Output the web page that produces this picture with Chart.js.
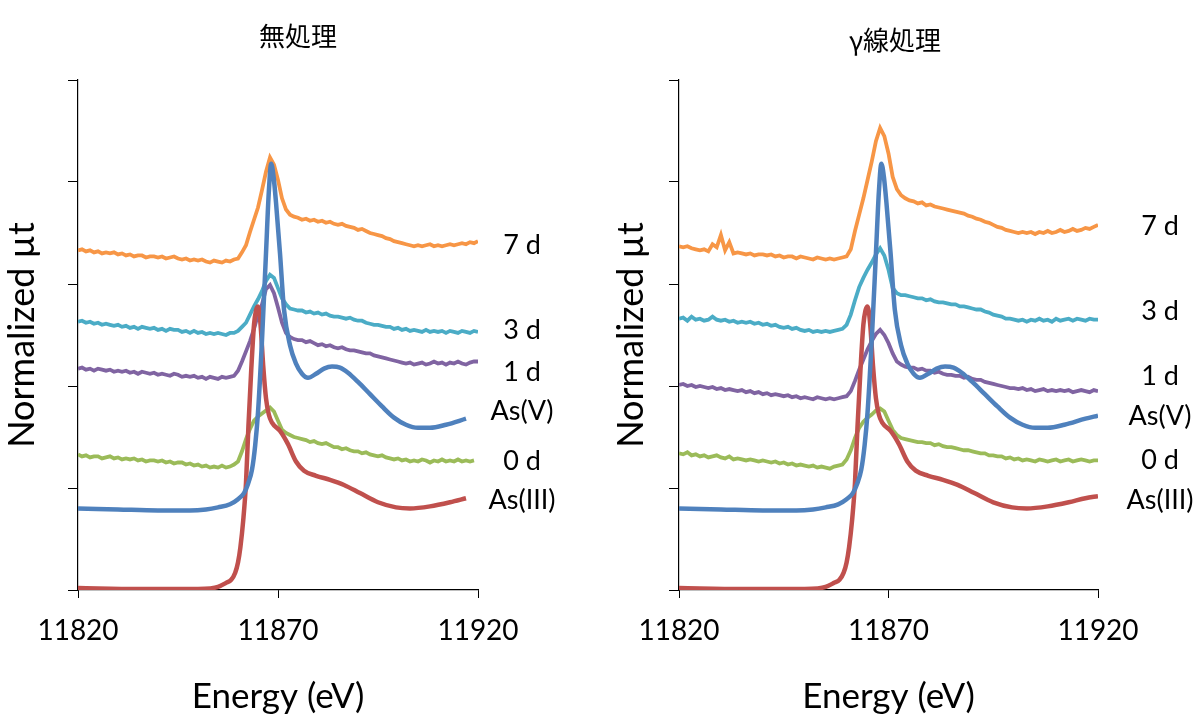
<!DOCTYPE html>
<html>
<head>
<meta charset="utf-8">
<script src="https://cdn.jsdelivr.net/npm/chart.js@4.4.0/dist/chart.umd.min.js"></script>
<style>
  html, body { margin: 0; padding: 0; background: #fff; }
  #wrap { position: relative; width: 1201px; height: 718px; }
  canvas { position: absolute; top: 0; }
  #left { left: 0; }
  #right { left: 600px; }
</style>
</head>
<body>
<div id="wrap">
  <canvas id="left" width="600" height="718"></canvas>
  <canvas id="right" width="601" height="718"></canvas>
</div>
<script>
// energy grid of the sample spectra (eV)
const energyGrid = [
  11820, 11821, 11822, 11823, 11824, 11825, 11826, 11827, 11828, 11829,
  11830, 11831, 11832, 11833, 11834, 11835, 11836, 11837, 11838, 11839,
  11840, 11841, 11842, 11843, 11844, 11845, 11846, 11847, 11848, 11849,
  11850, 11851, 11852, 11853, 11854, 11855, 11856, 11857, 11858, 11859,
  11860, 11861, 11862, 11863, 11864, 11865, 11866, 11867, 11868, 11869,
  11870, 11871, 11872, 11873, 11874, 11875, 11876, 11877, 11878, 11879,
  11880, 11881, 11882, 11883, 11884, 11885, 11886, 11887, 11888, 11889,
  11890, 11891, 11892, 11893, 11894, 11895, 11896, 11897, 11898, 11899,
  11900, 11901, 11902, 11903, 11904, 11905, 11906, 11907, 11908, 11909,
  11910, 11911, 11912, 11913, 11914, 11915, 11916, 11917, 11918, 11919,
  11920
];
const xTicks = [11820, 11870, 11920];
const seriesLabels = ['7 d', '3 d', '1 d', 'As(V)', '0 d', 'As(III)'];

// 無処理 (untreated)
const untreated7d = [
  3.33, 3.34, 3.32, 3.33, 3.31, 3.32, 3.30, 3.31, 3.30, 3.31,
  3.29, 3.30, 3.28, 3.29, 3.27, 3.28, 3.28, 3.26, 3.27, 3.27,
  3.26, 3.27, 3.25, 3.26, 3.27, 3.25, 3.24, 3.25, 3.23, 3.24,
  3.23, 3.24, 3.22, 3.21, 3.23, 3.22, 3.21, 3.23, 3.22, 3.24,
  3.25, 3.31, 3.38, 3.51, 3.63, 3.75, 3.92, 4.10, 4.24, 4.17,
  4.02, 3.84, 3.73, 3.68, 3.66, 3.65, 3.63, 3.64, 3.62, 3.63,
  3.61, 3.62, 3.60, 3.61, 3.59, 3.58, 3.59, 3.57, 3.56, 3.55,
  3.53, 3.54, 3.52, 3.50, 3.49, 3.48, 3.47, 3.45, 3.44, 3.42,
  3.41, 3.40, 3.39, 3.38, 3.37, 3.38, 3.37, 3.38, 3.39, 3.37,
  3.38, 3.37, 3.38, 3.39, 3.38, 3.39, 3.40, 3.39, 3.41, 3.40,
  3.42
];
const untreated3d = [
  2.63, 2.64, 2.62, 2.63, 2.61, 2.62, 2.60, 2.61, 2.60, 2.59,
  2.60, 2.58, 2.59, 2.57, 2.58, 2.56, 2.58, 2.57, 2.56, 2.57,
  2.55, 2.56, 2.54, 2.56, 2.55, 2.55, 2.53, 2.54, 2.52, 2.54,
  2.52, 2.53, 2.51, 2.52, 2.51, 2.52, 2.51, 2.50, 2.52, 2.52,
  2.54, 2.58, 2.62, 2.70, 2.78, 2.85, 2.93, 3.03, 3.09, 3.06,
  2.96, 2.86, 2.80, 2.76, 2.75, 2.74, 2.74, 2.72, 2.73, 2.71,
  2.72, 2.70, 2.71, 2.69, 2.68, 2.68, 2.67, 2.66, 2.67, 2.65,
  2.64, 2.64, 2.62, 2.61, 2.60, 2.60, 2.59, 2.58, 2.58, 2.56,
  2.57, 2.55, 2.56, 2.54, 2.55, 2.54, 2.53, 2.55, 2.53, 2.54,
  2.53, 2.54, 2.52, 2.54, 2.53, 2.52, 2.54, 2.53, 2.52, 2.54,
  2.53
];
const untreated1d = [
  2.17, 2.18, 2.16, 2.17, 2.15, 2.17, 2.16, 2.15, 2.16, 2.14,
  2.15, 2.14, 2.15, 2.13, 2.14, 2.12, 2.14, 2.13, 2.12, 2.13,
  2.11, 2.12, 2.11, 2.10, 2.12, 2.11, 2.09, 2.10, 2.09, 2.10,
  2.08, 2.09, 2.07, 2.09, 2.08, 2.07, 2.09, 2.08, 2.09, 2.10,
  2.15, 2.24, 2.34, 2.44, 2.56, 2.70, 2.80, 2.95, 2.99, 2.91,
  2.77, 2.62, 2.52, 2.48, 2.46, 2.45, 2.45, 2.43, 2.44, 2.42,
  2.40, 2.41, 2.39, 2.40, 2.38, 2.37, 2.38, 2.36, 2.35, 2.35,
  2.34, 2.33, 2.32, 2.32, 2.30, 2.29, 2.28, 2.27, 2.26, 2.25,
  2.24, 2.23, 2.22, 2.23, 2.21, 2.22, 2.23, 2.21, 2.22, 2.24,
  2.22, 2.23, 2.21, 2.23, 2.22, 2.24, 2.22, 2.21, 2.23, 2.24,
  2.24
];
const untreated0d = [
  1.33, 1.31, 1.32, 1.30, 1.31, 1.31, 1.29, 1.30, 1.31, 1.29,
  1.30, 1.28, 1.29, 1.28, 1.29, 1.27, 1.28, 1.26, 1.27, 1.27,
  1.26, 1.27, 1.25, 1.26, 1.24, 1.25, 1.25, 1.23, 1.24, 1.22,
  1.23, 1.21, 1.22, 1.20, 1.21, 1.20, 1.22, 1.20, 1.21, 1.23,
  1.26, 1.36, 1.48, 1.58, 1.66, 1.70, 1.73, 1.76, 1.79, 1.75,
  1.66, 1.57, 1.54, 1.52, 1.50, 1.49, 1.48, 1.47, 1.45, 1.46,
  1.44, 1.43, 1.44, 1.42, 1.40, 1.40, 1.38, 1.39, 1.37, 1.36,
  1.36, 1.34, 1.35, 1.33, 1.32, 1.31, 1.32, 1.30, 1.29, 1.28,
  1.29, 1.27, 1.28, 1.26, 1.27, 1.26, 1.28, 1.27, 1.25, 1.27,
  1.26, 1.28, 1.26, 1.27, 1.26, 1.28, 1.26, 1.27, 1.26, 1.27
];
const untreatedAsVEnergy = [
  11820, 11830, 11840, 11848, 11852, 11855, 11858, 11860, 11861.5, 11862.5,
  11863.5, 11864.3, 11865, 11866, 11867, 11867.7, 11868.3, 11868.9, 11869.5, 11870.5,
  11871.5, 11873, 11874.5, 11876, 11877.5, 11879.5, 11881.5, 11883.5, 11885.5, 11887.5,
  11890, 11893, 11896, 11899, 11902, 11905, 11908, 11912, 11917
];
const untreatedAsV = [
  0.80, 0.79, 0.78, 0.78, 0.79, 0.81, 0.84, 0.89, 0.95, 1.04,
  1.18, 1.42, 1.74, 2.45, 3.30, 3.90, 4.18, 4.05, 3.80, 3.30,
  2.75, 2.40, 2.22, 2.12, 2.08, 2.12, 2.17, 2.19, 2.18, 2.13,
  2.04, 1.92, 1.80, 1.69, 1.62, 1.59, 1.59, 1.62, 1.68
];
const untreatedAsIIIEnergy = [
  11820, 11835, 11850, 11853, 11855, 11857, 11858.3, 11859.3, 11860, 11860.6,
  11861.3, 11862, 11862.6, 11863.3, 11864, 11864.5, 11865, 11865.6, 11866.3, 11867,
  11867.7, 11868.5, 11870.5, 11872.5, 11874.5, 11876.5, 11879.5, 11883, 11886.5, 11890.5,
  11895, 11899.5, 11903, 11908, 11913, 11917
];
const untreatedAsIII = [
  0.02, 0.01, 0.01, 0.015, 0.03, 0.07, 0.10, 0.17, 0.27, 0.42,
  0.68, 1.05, 1.60, 2.15, 2.60, 2.74, 2.78, 2.62, 2.20, 1.88,
  1.72, 1.64, 1.56, 1.43, 1.26, 1.17, 1.12, 1.08, 1.03, 0.95,
  0.86, 0.81, 0.80, 0.82, 0.86, 0.90
];

// γ線処理 (gamma-ray treated)
const gamma7d = [
  3.37, 3.36, 3.37, 3.35, 3.34, 3.33, 3.34, 3.32, 3.39, 3.36,
  3.48, 3.33, 3.41, 3.30, 3.31, 3.30, 3.29, 3.30, 3.28, 3.29,
  3.29, 3.28, 3.29, 3.27, 3.28, 3.26, 3.27, 3.27, 3.25, 3.27,
  3.26, 3.25, 3.24, 3.26, 3.25, 3.24, 3.25, 3.24, 3.25, 3.26,
  3.27, 3.34, 3.52, 3.68, 3.84, 4.02, 4.20, 4.40, 4.53, 4.45,
  4.28, 4.05, 3.93, 3.87, 3.84, 3.82, 3.81, 3.79, 3.80, 3.77,
  3.78, 3.76, 3.75, 3.74, 3.73, 3.72, 3.71, 3.70, 3.69, 3.67,
  3.66, 3.64, 3.63, 3.61, 3.60, 3.58, 3.56, 3.55, 3.53, 3.52,
  3.51, 3.50, 3.51, 3.50, 3.51, 3.49, 3.51, 3.50, 3.52, 3.50,
  3.51, 3.53, 3.51, 3.52, 3.54, 3.52, 3.53, 3.55, 3.54, 3.56,
  3.58
];
const gamma3d = [
  2.66, 2.67, 2.64, 2.68, 2.65, 2.66, 2.64, 2.65, 2.68, 2.65,
  2.64, 2.65, 2.63, 2.64, 2.62, 2.63, 2.62, 2.63, 2.61, 2.62,
  2.60, 2.61, 2.59, 2.60, 2.58, 2.57, 2.58, 2.56, 2.57, 2.55,
  2.54, 2.55, 2.53, 2.54, 2.53, 2.54, 2.53, 2.54, 2.55, 2.56,
  2.60, 2.70, 2.84, 2.97, 3.06, 3.14, 3.21, 3.29, 3.35, 3.28,
  3.14, 2.96, 2.91, 2.89, 2.89, 2.88, 2.87, 2.86, 2.86, 2.84,
  2.85, 2.83, 2.82, 2.82, 2.81, 2.80, 2.80, 2.78, 2.78, 2.77,
  2.76, 2.75, 2.75, 2.73, 2.72, 2.70, 2.69, 2.68, 2.66, 2.66,
  2.65, 2.64, 2.65, 2.63, 2.65, 2.64, 2.66, 2.64, 2.65, 2.63,
  2.66, 2.64, 2.65, 2.66, 2.64, 2.66, 2.65, 2.64, 2.66, 2.65,
  2.65
];
const gamma1d = [
  2.01, 2.02, 2.00, 2.01, 1.99, 2.00, 1.99, 1.98, 1.99, 1.97,
  1.98, 1.96, 1.97, 1.96, 1.95, 1.96, 1.94, 1.95, 1.93, 1.94,
  1.92, 1.93, 1.91, 1.92, 1.91, 1.90, 1.91, 1.89, 1.90, 1.88,
  1.89, 1.88, 1.87, 1.89, 1.88, 1.87, 1.88, 1.87, 1.88, 1.89,
  1.90, 1.95, 2.05, 2.16, 2.26, 2.36, 2.44, 2.51, 2.55, 2.50,
  2.42, 2.32, 2.24, 2.21, 2.19, 2.18, 2.18, 2.16, 2.17, 2.15,
  2.15, 2.13, 2.14, 2.12, 2.11, 2.11, 2.10, 2.10, 2.08, 2.09,
  2.07, 2.06, 2.06, 2.04, 2.03, 2.02, 2.01, 2.00, 1.99, 1.98,
  1.98, 1.97, 1.98, 1.96, 1.97, 1.95, 1.96, 1.97, 1.95, 1.96,
  1.95, 1.96, 1.95, 1.96, 1.94, 1.95, 1.96, 1.95, 1.94, 1.96,
  1.95
];
const gamma0d = [
  1.34, 1.33, 1.35, 1.32, 1.33, 1.31, 1.32, 1.30, 1.31, 1.32,
  1.30, 1.29, 1.31, 1.28, 1.29, 1.28, 1.27, 1.28, 1.27, 1.26,
  1.27, 1.26, 1.25, 1.26, 1.24, 1.25, 1.23, 1.24, 1.22, 1.23,
  1.22, 1.21, 1.22, 1.20, 1.21, 1.20, 1.19, 1.21, 1.22, 1.23,
  1.28, 1.37, 1.49, 1.59, 1.65, 1.69, 1.72, 1.76, 1.78, 1.75,
  1.66, 1.57, 1.52, 1.49, 1.48, 1.47, 1.46, 1.45, 1.45, 1.44,
  1.44, 1.42, 1.43, 1.41, 1.40, 1.40, 1.39, 1.38, 1.37, 1.37,
  1.36, 1.35, 1.34, 1.34, 1.32, 1.32, 1.31, 1.31, 1.29, 1.30,
  1.28, 1.29, 1.27, 1.28, 1.27, 1.26, 1.28, 1.27, 1.26, 1.27,
  1.28, 1.26, 1.27, 1.28, 1.26, 1.27, 1.28, 1.27, 1.26, 1.27,
  1.27
];
const gammaAsVEnergy = [
  11820, 11830, 11840, 11848, 11852, 11855, 11858, 11860, 11861.5, 11862.5,
  11863.5, 11864.3, 11865, 11866, 11867, 11867.7, 11868.3, 11868.9, 11869.5, 11870.5,
  11871.5, 11873, 11874.5, 11876, 11877.5, 11879.5, 11881.5, 11883.5, 11885.5, 11887.5,
  11890, 11893, 11896, 11899, 11902, 11905, 11908, 11912, 11917, 11920
];
const gammaAsV = [
  0.80, 0.79, 0.78, 0.78, 0.79, 0.81, 0.84, 0.89, 0.95, 1.04,
  1.18, 1.42, 1.74, 2.45, 3.30, 3.90, 4.18, 4.05, 3.80, 3.30,
  2.75, 2.40, 2.22, 2.12, 2.08, 2.12, 2.17, 2.19, 2.18, 2.13,
  2.04, 1.92, 1.80, 1.69, 1.62, 1.59, 1.59, 1.62, 1.68, 1.71
];
const gammaAsIIIEnergy = [
  11820, 11835, 11850, 11853, 11855, 11857, 11858.3, 11859.3, 11860, 11860.6,
  11861.3, 11862, 11862.6, 11863.3, 11864, 11864.5, 11865, 11865.6, 11866.3, 11867,
  11867.7, 11868.5, 11870.5, 11872.5, 11874.5, 11876.5, 11879.5, 11883, 11886.5, 11890.5,
  11895, 11899.5, 11903, 11908, 11913, 11917, 11920
];
const gammaAsIII = [
  0.02, 0.01, 0.01, 0.015, 0.03, 0.07, 0.10, 0.17, 0.27, 0.42,
  0.68, 1.05, 1.60, 2.15, 2.60, 2.74, 2.78, 2.62, 2.20, 1.88,
  1.72, 1.64, 1.56, 1.43, 1.26, 1.17, 1.12, 1.08, 1.03, 0.95,
  0.86, 0.81, 0.80, 0.82, 0.86, 0.90, 0.92
];

const colors = {
  d7: '#F79646', d3: '#4BACC6', d1: '#8064A2', asV: '#4F81BD', d0: '#9BBB59', asIII: '#C0504D'
};

function noisy(label, mu, color) {
  return {
    label, borderColor: color, borderWidth: 3.8, pointRadius: 0, tension: 0,
    data: mu.map((v, i) => ({ x: energyGrid[i], y: v }))
  };
}

function smooth(label, energy, mu, color) {
  return {
    label, borderColor: color, borderWidth: 4.5, pointRadius: 0, cubicInterpolationMode: 'monotone',
    data: energy.map((e, i) => ({ x: e, y: mu[i] }))
  };
}

// title + labels at the line ends
const panelText = {
  id: 'panelText',
  afterDraw(chart, args, opts) {
    const ctx = chart.ctx;
    const yScale = chart.scales.y;
    const right = chart.chartArea.right;
    ctx.save();
    ctx.fillStyle = '#000';
    ctx.textAlign = 'center';
    ctx.textBaseline = 'middle';
    ctx.font = '26px "Noto Sans CJK JP"';
    ctx.fillText(opts.title, opts.titleX, opts.titleY);
    ctx.font = '27px Lato';
    seriesLabels.forEach((t, i) => {
      ctx.fillText(t, right + opts.labelDx, yScale.getPixelForValue(opts.labelY[i]));
    });
    ctx.restore();
  }
};

function buildChart(canvasId, cfg) {
  return new Chart(document.getElementById(canvasId), {
    type: 'line',
    data: { datasets: cfg.datasets },
    options: {
      responsive: false,
      animation: false,
      devicePixelRatio: 1,
      layout: { padding: { top: 80, right: cfg.padRight, left: 0, bottom: 0 } },
      plugins: {
        legend: { display: false },
        tooltip: { enabled: false },
        panelText: {
          title: cfg.title, titleX: cfg.titleX, titleY: cfg.titleY,
          labelDx: cfg.labelDx, labelY: cfg.labelY
        }
      },
      scales: {
        x: {
          type: 'linear',
          min: 11820,
          max: 11920,
          afterBuildTicks: s => { s.ticks = xTicks.map(v => ({ value: v })); },
          ticks: {
            color: '#000', font: { family: 'Lato', size: 28 }, padding: 16, maxRotation: 0,
            callback: v => String(v)
          },
          grid: { drawOnChartArea: false, drawTicks: true, tickLength: 8, color: '#000' },
          border: { display: true, color: '#000', width: 1.2 },
          title: {
            display: true, text: 'Energy (eV)', color: '#000',
            font: { family: 'Lato', size: 35 }, padding: { top: 0, bottom: 0 }
          },
          afterFit: s => { s.height = 128; }
        },
        y: {
          min: 0,
          max: 5,
          ticks: { stepSize: 1, display: false },
          grid: { drawOnChartArea: false, drawTicks: true, tickLength: 10, color: '#000' },
          border: { display: true, color: '#000', width: 1.2 },
          title: {
            display: true, text: 'Normalized µt', color: '#000',
            font: { family: 'Lato', size: 36 }, padding: { top: cfg.yTitlePad, bottom: 0 }
          },
          afterFit: s => { s.width = cfg.yWidth; }
        }
      }
    },
    plugins: [panelText]
  });
}

buildChart('left', {
  title: '無処理', titleX: 298, titleY: 36,
  padRight: 122, yWidth: 78, yTitlePad: 1, labelDx: 44,
  labelY: [3.38, 2.55, 2.13, 1.75, 1.26, 0.88],
  datasets: [
    smooth('As(V)', untreatedAsVEnergy, untreatedAsV, colors.asV),
    smooth('As(III)', untreatedAsIIIEnergy, untreatedAsIII, colors.asIII),
    noisy('3 d', untreated3d, colors.d3),
    noisy('1 d', untreated1d, colors.d1),
    noisy('0 d', untreated0d, colors.d0),
    noisy('7 d', untreated7d, colors.d7)
  ]
});

buildChart('right', {
  title: 'γ線処理', titleX: 295, titleY: 40,
  padRight: 103, yWidth: 79, yTitlePad: 10, labelDx: 62,
  labelY: [3.57, 2.73, 2.10, 1.70, 1.27, 0.88],
  datasets: [
    smooth('As(V)', gammaAsVEnergy, gammaAsV, colors.asV),
    smooth('As(III)', gammaAsIIIEnergy, gammaAsIII, colors.asIII),
    noisy('3 d', gamma3d, colors.d3),
    noisy('1 d', gamma1d, colors.d1),
    noisy('0 d', gamma0d, colors.d0),
    noisy('7 d', gamma7d, colors.d7)
  ]
});
</script>
</body>
</html>
